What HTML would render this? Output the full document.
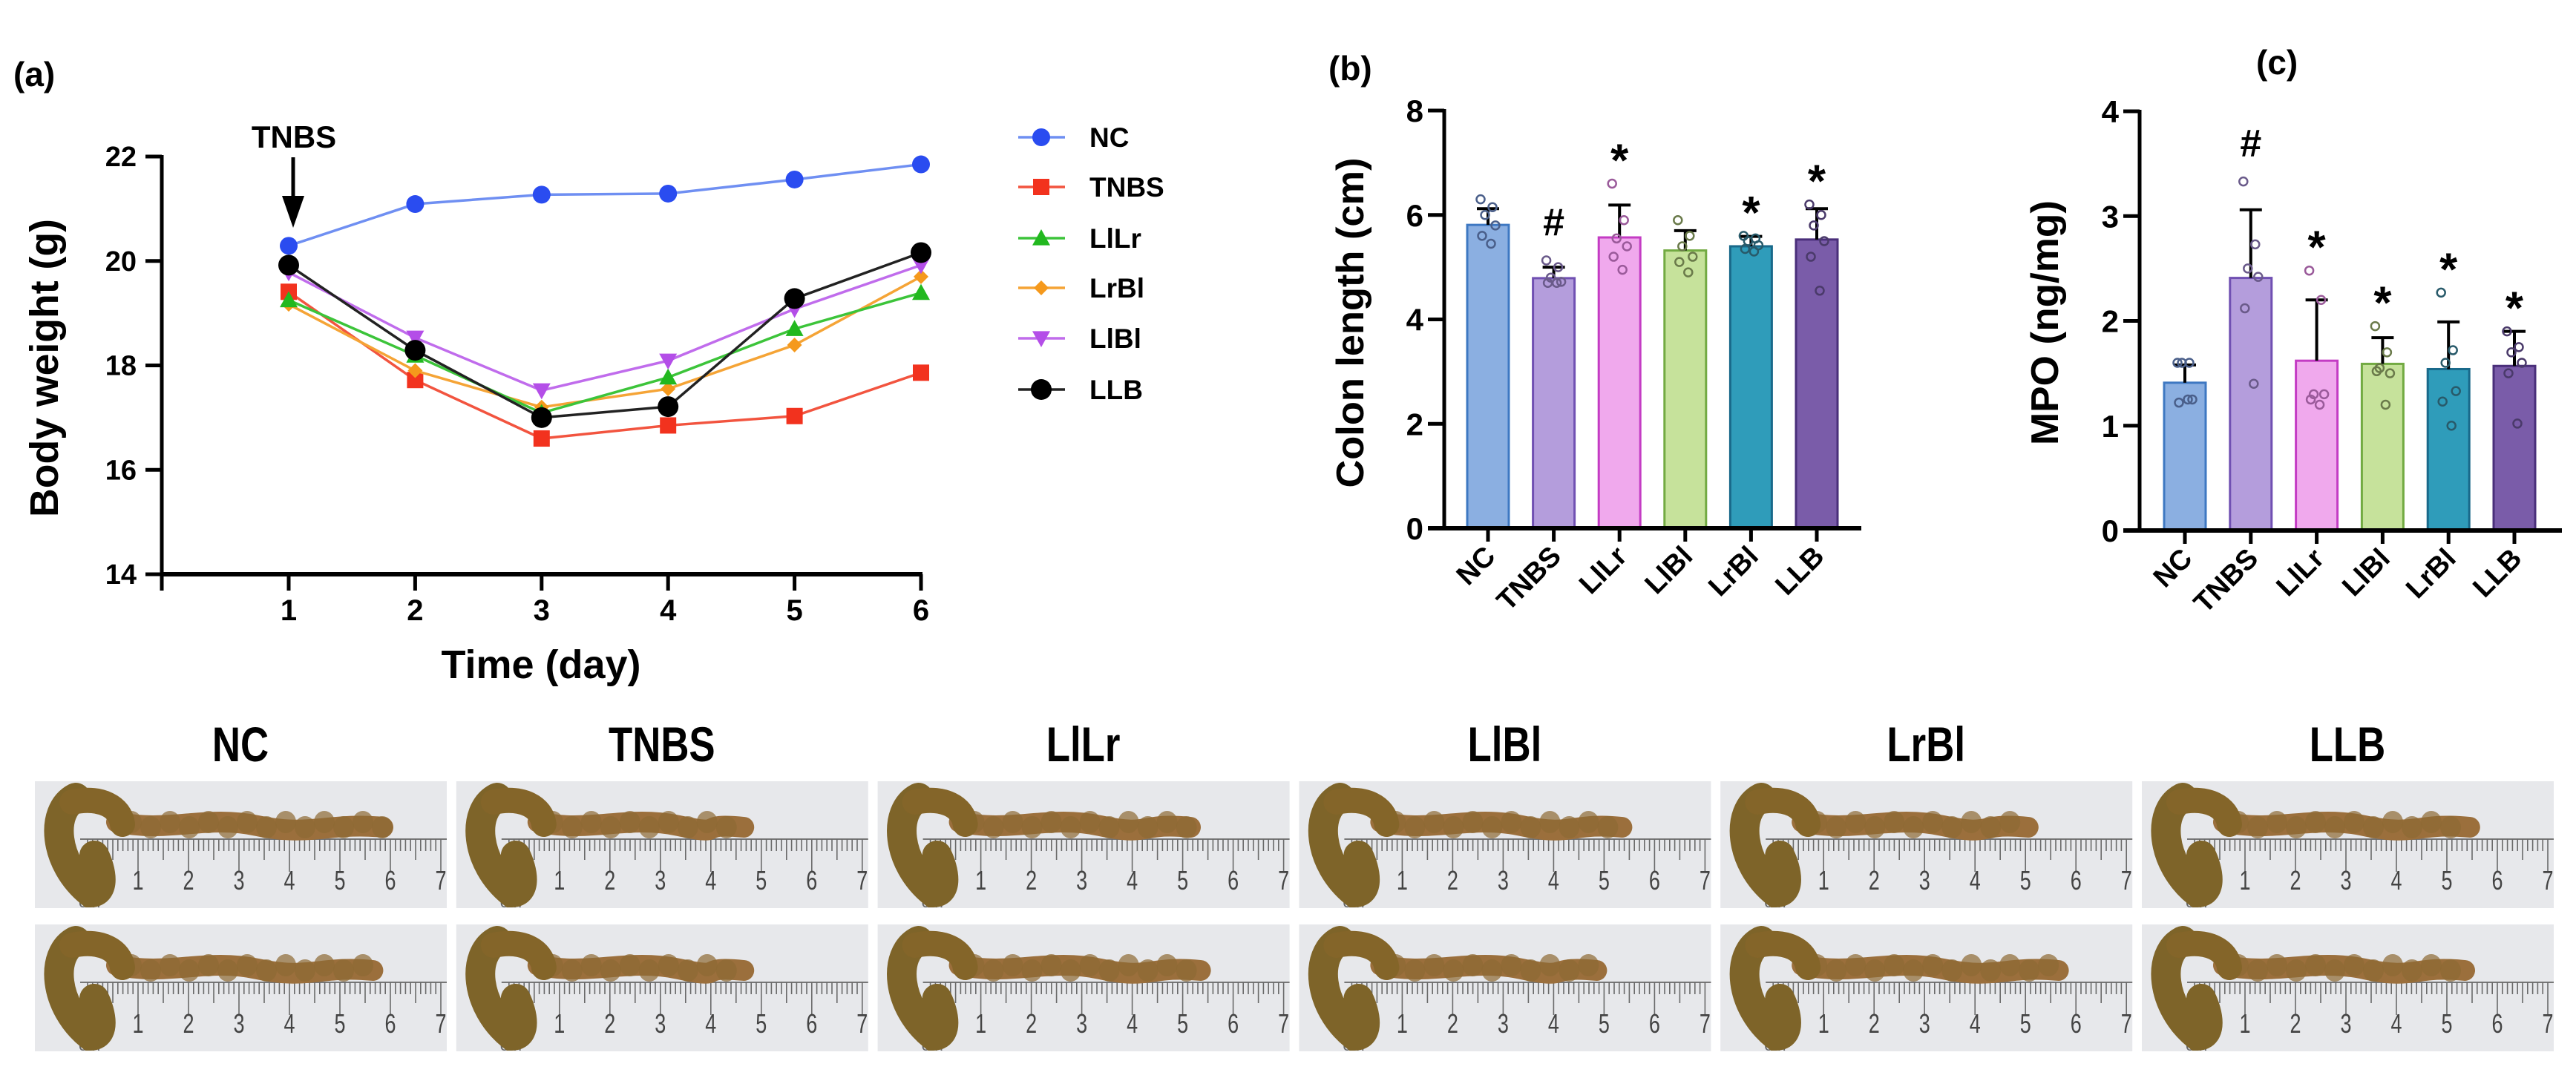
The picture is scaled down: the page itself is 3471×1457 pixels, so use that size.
<!DOCTYPE html>
<html><head><meta charset="utf-8"><style>
html,body{margin:0;padding:0;background:#fff}
svg{display:block}
text{font-family:"Liberation Sans",Arial,sans-serif}
</style></head><body>
<svg id="fig" xmlns="http://www.w3.org/2000/svg" width="3471" height="1457" viewBox="0 0 3471 1457">
<rect width="3471" height="1457" fill="#fff"/>
<g id="pa"></g>
<g id="pb"></g>
<g id="pc"></g>
<g id="pp"></g>
</svg>
<script>
// ---------- data ----------
const days = [1,2,3,4,5,6];
const yTicksA = [14,16,18,20,22];
const seriesNames = ["NC","TNBS","LlLr","LrBl","LlBl","LLB"];
const wNC   = [20.29,21.09,21.27,21.29,21.56,21.85];
const wTNBS = [19.41,17.72,16.60,16.85,17.03,17.86];
const wLlLr = [19.25,18.19,17.09,17.77,18.70,19.39];
const wLrBl = [19.17,17.90,17.20,17.55,18.39,19.70];
const wLlBl = [19.78,18.53,17.52,18.09,19.08,19.92];
const wLLB  = [19.92,18.29,17.00,17.21,19.28,20.16];

const groups = ["NC","TNBS","LlLr","LlBl","LrBl","LLB"];
const colonMean = [5.81,4.79,5.57,5.32,5.40,5.53];
const colonErr  = [0.31,0.21,0.62,0.38,0.19,0.59];
const colonDots = [[6.3,6.15,6.0,5.8,5.6,5.45],[5.13,5.0,4.8,4.72,4.7,4.7],[6.6,5.9,5.55,5.4,5.2,4.95],[5.9,5.6,5.4,5.2,5.1,4.9],[5.6,5.55,5.5,5.42,5.35,5.3],[6.2,6.0,5.8,5.5,5.2,4.55]];
const colonMarks = ["","#","*","","*","*"];
const yTicksB = [0,2,4,6,8];
const mpoMean = [1.41,2.41,1.62,1.59,1.54,1.57];
const mpoErr  = [0.17,0.65,0.58,0.25,0.45,0.33];
const mpoDots = [[1.6,1.6,1.6,1.25,1.22,1.25],[3.33,2.73,2.5,2.42,2.12,1.4],[2.48,2.2,1.3,1.3,1.25,1.2],[1.95,1.7,1.55,1.5,1.52,1.2],[2.27,1.72,1.6,1.33,1.23,1.0],[1.9,1.75,1.7,1.6,1.5,1.02]];
const mpoMarks = ["","#","*","*","*","*"];
const yTicksC = [0,1,2,3,4];

const NS="http://www.w3.org/2000/svg";
function mk(parent,tag,attrs,txt){const e=document.createElementNS(NS,tag);for(const k in attrs)e.setAttribute(k,attrs[k]);if(txt!==undefined)e.textContent=txt;parent.appendChild(e);return e;}

// ---------- panel a ----------
const pa=document.getElementById('pa');
const ax0=218, ay22=211, ay14=774, dx1=389, dStep=170.4;
const xA=d=>dx1+(d-1)*dStep;
const yA=v=>ay14-(v-14)*(ay14-ay22)/8;
let t=mk(pa,'text',{x:18,y:116,'font-size':46,'font-weight':'bold'},'(a)');

mk(pa,'line',{x1:ax0,y1:ay22-2,x2:ax0,y2:ay14+2,stroke:'#000','stroke-width':5});
mk(pa,'line',{x1:ax0-2,y1:ay14,x2:xA(6)+2,y2:ay14,stroke:'#000','stroke-width':6});
yTicksA.forEach(v=>{mk(pa,'line',{x1:ax0-22,y1:yA(v),x2:ax0,y2:yA(v),stroke:'#000','stroke-width':5});
 const tl=mk(pa,'text',{x:ax0-34,y:yA(v)+13,'font-size':38,'font-weight':'bold','text-anchor':'end'},String(v));
 });
mk(pa,'line',{x1:ax0,y1:ay14,x2:ax0,y2:ay14+22,stroke:'#000','stroke-width':5});
days.forEach(d=>{mk(pa,'line',{x1:xA(d),y1:ay14,x2:xA(d),y2:ay14+22,stroke:'#000','stroke-width':5});
 const tl=mk(pa,'text',{x:xA(d),y:ay14+62,'font-size':40,'font-weight':'bold','text-anchor':'middle'},String(d));
 });
t=mk(pa,'text',{x:729,y:914,'font-size':54,'font-weight':'bold','text-anchor':'middle'},'Time (day)');

t=mk(pa,'text',{x:0,y:0,'font-size':54,'font-weight':'bold','text-anchor':'middle',transform:'translate(78,496) rotate(-90)',textLength:402,lengthAdjust:'spacingAndGlyphs'},'Body weight (g)');

t=mk(pa,'text',{x:396,y:199,'font-size':42,'font-weight':'bold','text-anchor':'middle'},'TNBS');

mk(pa,'line',{x1:395,y1:212,x2:395,y2:270,stroke:'#000','stroke-width':5});
mk(pa,'polygon',{points:'380,264 410,264 395,307',fill:'#000'});

const styles={NC:{c:'#2a4cf0',l:'#6f8ff2',m:'circle',r:12},TNBS:{c:'#f2321e',l:'#f2543f',m:'square',r:11},LlLr:{c:'#22b81f',l:'#3cc43a',m:'tri',r:12},LrBl:{c:'#f5991c',l:'#f5a436',m:'diamond',r:10},LlBl:{c:'#b44ee8',l:'#c06cec',m:'dtri',r:12},LLB:{c:'#000',l:'#222',m:'circle',r:14}};
const seriesData={NC:wNC,TNBS:wTNBS,LlLr:wLlLr,LrBl:wLrBl,LlBl:wLlBl,LLB:wLLB};
function marker(g,m,x,y,r,c){
 if(m==='circle')return mk(g,'circle',{cx:x,cy:y,r:r,fill:c});
 if(m==='square')return mk(g,'rect',{x:x-r,y:y-r,width:2*r,height:2*r,fill:c});
 if(m==='tri')return mk(g,'polygon',{points:`${x},${y-r} ${x+r},${y+r*0.8} ${x-r},${y+r*0.8}`,fill:c});
 if(m==='dtri')return mk(g,'polygon',{points:`${x-r},${y-r*0.8} ${x+r},${y-r*0.8} ${x},${y+r}`,fill:c});
 return mk(g,'polygon',{points:`${x},${y-r} ${x+r},${y} ${x},${y+r} ${x-r},${y}`,fill:c});
}
const drawOrder=["NC","TNBS","LrBl","LlLr","LlBl","LLB"];
drawOrder.forEach(n=>{const s=styles[n],vals=seriesData[n];
 const g=mk(pa,'g',{});
 const ln=mk(g,'polyline',{points:vals.map((v,i)=>xA(days[i])+','+yA(v)).join(' '),fill:'none',stroke:s.l,'stroke-width':3.5});
 
 vals.forEach((v,i)=>{const p=marker(g,s.m,xA(days[i]),yA(v),s.r,s.c);});
});
const legY=[185,252,321,388,456,525];
seriesNames.forEach((n,i)=>{const s=styles[n];
 const g=mk(pa,'g',{});
 mk(g,'line',{x1:1372,y1:legY[i],x2:1435,y2:legY[i],stroke:s.l,'stroke-width':3.5});
 marker(g,s.m,1403,legY[i],s.r,s.c);
 mk(g,'text',{x:1468,y:legY[i]+13,'font-size':37,'font-weight':'bold'},n);
});

// ---------- bar charts ----------
const barFill=['#8bafe1','#b49ddc','#f0a9ed','#c6e29b','#2f9cba','#7a5ca9'];
const barStroke=['#3e78c2','#7050b2','#c43cc4','#72aa42','#19698a','#4a2f7a'];
const dotStroke=['#4a5f8a','#6a5a8a','#9a5a9a','#6a7a4a','#285a6a','#4a3a6a'];
const jitter=[-10,6,-4,10,-8,4];
function barChart(g,o){
 const y=v=>o.y0-(v)*(o.y0-o.yTop)/o.max;
 const xc=i=>o.c0+i*o.step;
 let tt=mk(g,'text',{x:o.lx,y:o.ly,'font-size':46,'font-weight':'bold'},o.label);
 
 o.means.forEach((m,i)=>{
  const r=mk(g,'rect',{x:xc(i)-28,y:y(m),width:56,height:o.y0-y(m),fill:barFill[i],stroke:barStroke[i],'stroke-width':3});
  
  mk(g,'line',{x1:xc(i),y1:y(m),x2:xc(i),y2:y(m+o.errs[i]),stroke:'#000','stroke-width':4});
  mk(g,'line',{x1:xc(i)-15,y1:y(m+o.errs[i]),x2:xc(i)+15,y2:y(m+o.errs[i]),stroke:'#000','stroke-width':4});
  o.dots[i].forEach((d,j)=>{const c=mk(g,'circle',{cx:xc(i)+jitter[j],cy:y(d),r:5.5,fill:'none',stroke:dotStroke[i],'stroke-width':2.5});
   });
  if(o.marks[i]){const top=Math.max(...o.dots[i],m+o.errs[i]);
   const isStar=o.marks[i]==='*';
   const mt=mk(g,'text',{x:xc(i),y:isStar?y(top)-10:y(top)-34,'font-size':isStar?62:52,'font-weight':'bold','text-anchor':'middle'},o.marks[i]);
   }
 });
 mk(g,'line',{x1:o.ax,y1:o.yTop-2,x2:o.ax,y2:o.y0+2,stroke:'#000','stroke-width':5});
 mk(g,'line',{x1:o.ax-22,y1:o.y0,x2:o.xEnd,y2:o.y0,stroke:'#000','stroke-width':6});
 o.ticks.forEach(v=>{mk(g,'line',{x1:o.ax-22,y1:y(v),x2:o.ax,y2:y(v),stroke:'#000','stroke-width':5});
  const tl=mk(g,'text',{x:o.ax-28,y:y(v)+15,'font-size':42,'font-weight':'bold','text-anchor':'end'},String(v));
  });
 groups.forEach((n,i)=>{mk(g,'line',{x1:xc(i),y1:o.y0,x2:xc(i),y2:o.y0+18,stroke:'#000','stroke-width':5});
  const tl=mk(g,'text',{x:0,y:0,'font-size':38,'font-weight':'bold','text-anchor':'end',transform:`translate(${xc(i)+12},${o.y0+40}) rotate(-45)`},n);
  });
 tt=mk(g,'text',{x:0,y:0,'font-size':52,'font-weight':'bold','text-anchor':'middle',transform:`translate(${o.tx},${o.ty}) rotate(-90)`,textLength:o.tl,lengthAdjust:'spacingAndGlyphs'},o.title);
 
}
barChart(document.getElementById('pb'),{key:'b',label:'(b)',lx:1790,ly:108,ax:1946,y0:712,yTop:149,max:8,c0:2005,step:88.6,xEnd:2508,means:colonMean,errs:colonErr,dots:colonDots,marks:colonMarks,ticks:yTicksB,title:'Colon length (cm)',tx:1837,ty:435,tl:445});
barChart(document.getElementById('pc'),{key:'c',label:'(c)',lx:3040,ly:100,ax:2883,y0:715,yTop:150,max:4,c0:2944,step:88.8,xEnd:3452,means:mpoMean,errs:mpoErr,dots:mpoDots,marks:mpoMarks,ticks:yTicksC,title:'MPO (ng/mg)',tx:2773,ty:435,tl:330});

// ---------- photos ----------
const pp=document.getElementById('pp');
const photoLen=[[6.0,5.8],[4.8,4.8],[5.3,5.5],[5.5,5.0],[5.2,5.8],[5.6,5.5]];
const rowY=[1053,1246];
groups.forEach((n,i)=>{
 const x0=47+i*567.8;
 const lab=mk(pp,'text',{x:0,y:0,'font-size':66,'font-weight':'bold','text-anchor':'middle',transform:`translate(${x0+277},1026) scale(0.8,1)`},n);
 
 rowY.forEach((y0,r)=>{
  const g=mk(pp,'g',{});
  mk(g,'rect',{x:x0,y:y0,width:555,height:171,fill:'#e7e8eb'});
  const rx=x0+71, ry=y0+78;
  mk(g,'line',{x1:rx-10,y1:ry,x2:x0+555,y2:ry,stroke:'#777','stroke-width':2});
  for(let k=0;k<=70;k++){const xx=rx+k*6.8; if(xx>x0+553)break;
   const h=k%10===0?44:(k%5===0?28:16);
   mk(g,'line',{x1:xx,y1:ry,x2:xx,y2:ry+h,stroke:'#6a6a6a','stroke-width':1.6});}
  for(let k=0;k<=7;k++)mk(g,'text',{x:0,y:0,'font-size':36,fill:'#444','text-anchor':'middle',transform:`translate(${rx+k*68},${y0+146}) scale(0.75,1)`},String(k));
  mk(g,'text',{x:rx-12,y:y0+170,'font-size':22,fill:'#666'},'cm');
  const L=photoLen[i][r], ex=rx+L*68;
  mk(g,'path',{d:`M${x0+110},${y0+55} C${x0+180},${y0+70} ${x0+230},${y0+45} ${x0+300},${y0+60} S${ex-80},${y0+55} ${ex-10},${y0+62}`,fill:'none',stroke:'#9b6f3c','stroke-width':28,'stroke-linecap':'round'});
  for(let xx=x0+130;xx<ex-10;xx+=26){mk(g,'ellipse',{cx:xx,cy:y0+58+((xx/26|0)%2?4:-3),rx:14,ry:15,fill:'#8d6a33',opacity:0.7});}
  mk(g,'path',{d:`M${x0+55},${y0+22} C${x0+20},${y0+40} ${x0+25},${y0+110} ${x0+75},${y0+150} C${x0+95},${y0+150} ${x0+90},${y0+120} ${x0+80},${y0+100}`,fill:'none',stroke:'#7e6429','stroke-width':40,'stroke-linecap':'round'});
  mk(g,'path',{d:`M${x0+50},${y0+28} C${x0+90},${y0+20} ${x0+115},${y0+35} ${x0+118},${y0+58}`,fill:'none',stroke:'#846529','stroke-width':34,'stroke-linecap':'round'});
 });
});
</script>
</body></html>
